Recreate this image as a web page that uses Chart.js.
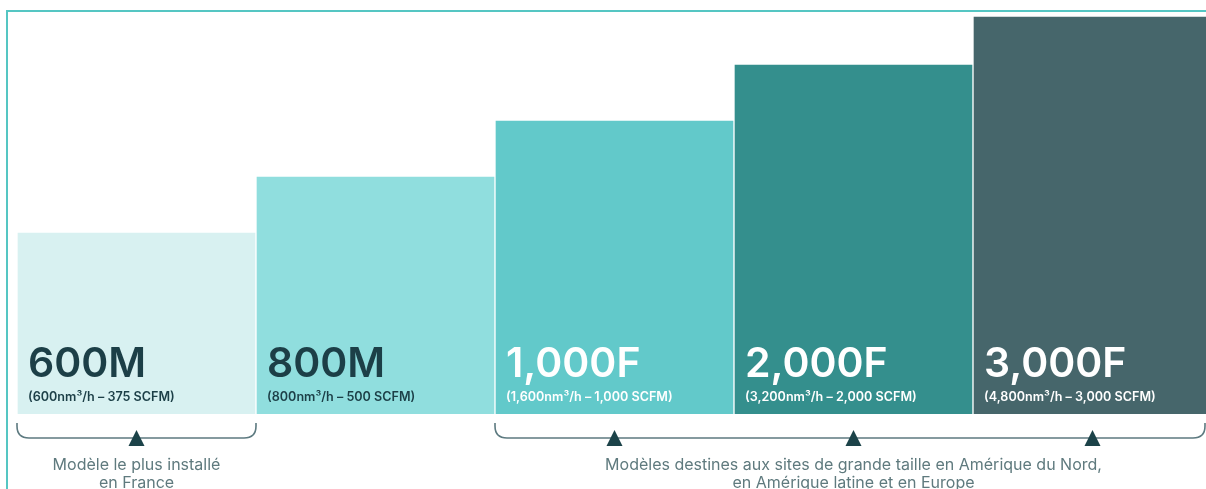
<!DOCTYPE html>
<html>
<head>
<meta charset="utf-8">
<script src="https://cdn.jsdelivr.net/npm/chart.js@4"></script>
<style>
  html, body { margin: 0; padding: 0; background: #fff; overflow: hidden; }
  #wrap { position: relative; width: 1212px; height: 489px; }
  #frame { position: absolute; left: 6px; top: 10px; right: 0; bottom: -5px;
           border-top: 2px solid #55c6c3; border-left: 2px solid #55c6c3; }
  canvas { position: absolute; left: 0; top: 0; }
</style>
</head>
<body>
<div id="wrap">
  <div id="frame"></div>
  <canvas id="myChart" width="1212" height="489"></canvas>
</div>
<script>
// models and their flow rates
const models = ['600M', '800M', '1,000F', '2,000F', '3,000F'];
const flows = [
  '(600nm³/h – 375 SCFM)',
  '(800nm³/h – 500 SCFM)',
  '(1,600nm³/h – 1,000 SCFM)',
  '(3,200nm³/h – 2,000 SCFM)',
  '(4,800nm³/h – 3,000 SCFM)'
];
// relative height of each step
const relativeSize = [182, 238, 294, 350, 398];
const barColors = ['#d8f1f1', '#90dede', '#62c9ca', '#348f8d', '#46666b'];
const textColors = ['#1c3f47', '#1c3f47', '#ffffff', '#ffffff', '#ffffff'];

// brackets under the bars
const groupStart = [0, 2];
const groupEnd = [0, 4];
const groupNotes = [
  ['Modèle le plus installé', 'en France'],
  ['Modèles destines aux sites de grande taille en Amérique du Nord,', 'en Amérique latine et en Europe']
];

const labelPlugin = {
  id: 'labelPlugin',
  afterDatasetsDraw(chart) {
    const ctx = chart.ctx;
    const bars = chart.getDatasetMeta(0).data;
    ctx.save();
    bars.forEach((bar, i) => {
      const left = bar.x - bar.width / 2;
      ctx.fillStyle = textColors[i];
      ctx.textAlign = 'left';
      ctx.textBaseline = 'alphabetic';
      ctx.font = '600 41px Inter';
      ctx.fillText(models[i], left + 11, bar.base - 37);
      ctx.font = '600 12.6px Inter';
      ctx.fillText(flows[i], left + 11, bar.base - 13);
    });

    // brackets
    groupStart.forEach((s, g) => {
      const first = bars[s];
      const last = bars[groupEnd[g]];
      const x1 = first.x - first.width / 2;
      const x2 = Math.min(last.x + last.width / 2, chart.width - 7);
      const yTop = first.base + 9;
      const yLine = first.base + 24;
      const r = 12;
      ctx.strokeStyle = '#5d7a80';
      ctx.lineWidth = 1.6;
      ctx.beginPath();
      ctx.moveTo(x1, yTop);
      ctx.lineTo(x1, yLine - r);
      ctx.quadraticCurveTo(x1, yLine, x1 + r, yLine);
      ctx.lineTo(x2 - r, yLine);
      ctx.quadraticCurveTo(x2, yLine, x2, yLine - r);
      ctx.lineTo(x2, yTop);
      ctx.stroke();

      // triangles at bar centres
      ctx.fillStyle = '#1c4349';
      for (let k = s; k <= groupEnd[g]; k++) {
        const cx = bars[k].x;
        ctx.beginPath();
        ctx.moveTo(cx, yLine - 8);
        ctx.lineTo(cx + 8, yLine + 8);
        ctx.lineTo(cx - 8, yLine + 8);
        ctx.closePath();
        ctx.fill();
      }

      // note text, centred under the middle bar of the group
      const cx = bars[Math.round((s + groupEnd[g]) / 2)].x;
      ctx.fillStyle = '#5f7a7e';
      ctx.font = '400 16px Inter';
      ctx.textAlign = 'center';
      groupNotes[g].forEach((line, j) => {
        ctx.fillText(line, cx, yLine + 32 + j * 18);
      });
    });
    ctx.restore();
  }
};

function initChart(target) {
  const data = {
    labels: models,
    datasets: [{
      label: 'Modèles',
      data: relativeSize,
      backgroundColor: barColors,
      borderColor: 'rgba(255,255,255,0.55)',
      borderWidth: 1,
      categoryPercentage: 1,
      barPercentage: 1
    }]
  };

  const config = {
    type: 'bar',
    data: data,
    options: {
      responsive: false,
      animation: false,
      layout: { padding: { left: 17, right: 0, top: 14, bottom: 75 } },
      plugins: { legend: { display: false }, tooltip: { enabled: false } },
      scales: {
        x: { display: false },
        y: { display: false, min: 0, max: 400 }
      }
    },
    plugins: [labelPlugin]
  };

  return new Chart(target, config);
}

document.addEventListener('DOMContentLoaded', () => {
  initChart(document.querySelector('#myChart'));
});
</script>
</body>
</html>
